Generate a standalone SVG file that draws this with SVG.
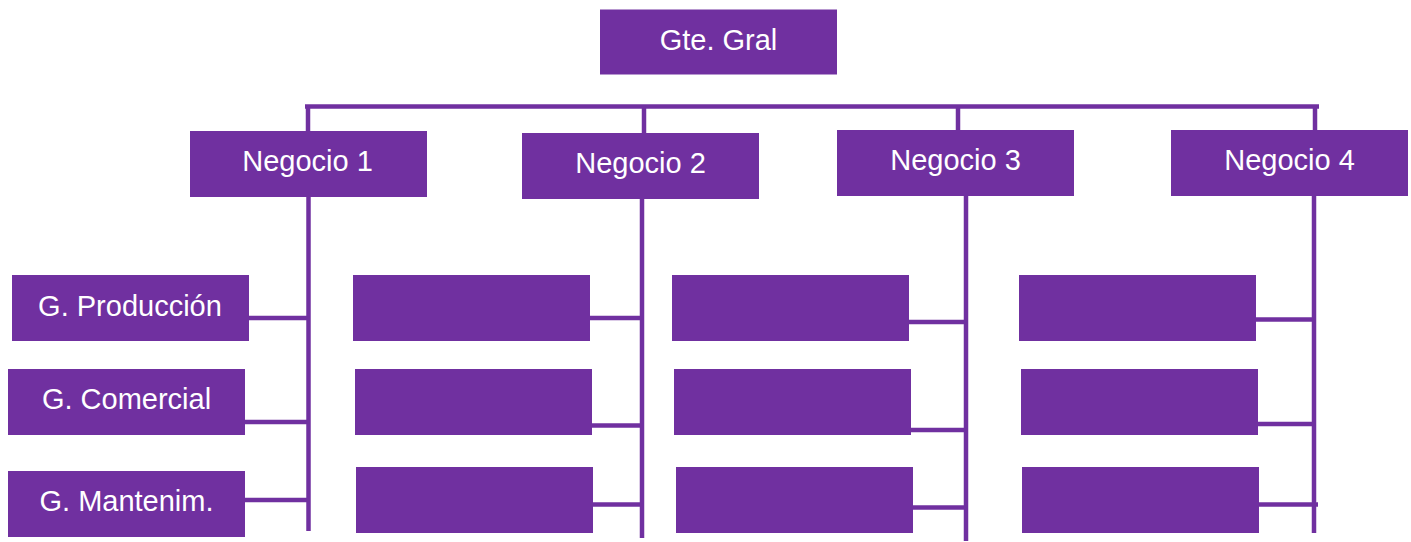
<svg xmlns="http://www.w3.org/2000/svg" width="1411" height="542" viewBox="0 0 1411 542">
  <style>
    .box { fill: #7030A0; }
    .lbl { fill: #FFFFFF; font-family: "Liberation Sans", Arial, sans-serif; font-size: 29px; text-anchor: middle; }
    .ln { stroke: #7030A0; stroke-width: 4.5; fill: none; }
  </style>
  <rect width="1411" height="542" fill="#FFFFFF"/>

  <!-- connectors -->
  <g id="connectors" class="ln">
    <path d="M305 106.5 H1319"/>
    <path d="M308 106.5 V131"/>
    <path d="M644 106.5 V133"/>
    <path d="M958 106.5 V130"/>
    <path d="M1315 106.5 V130"/>
    <path d="M308.5 197 V531"/>
    <path d="M642 199 V538"/>
    <path d="M966 196 V541"/>
    <path d="M1314 196 V533"/>
    <path d="M249 318 H308"/>
    <path d="M245 422 H308"/>
    <path d="M245 500 H308"/>
    <path d="M590 318 H642"/>
    <path d="M592 425.5 H642"/>
    <path d="M593 504.5 H642"/>
    <path d="M909 322 H966"/>
    <path d="M911 430 H966"/>
    <path d="M913 507.5 H966"/>
    <path d="M1256 319.5 H1314"/>
    <path d="M1258 424 H1314"/>
    <path d="M1259 504.5 H1318"/>
  </g>

  <!-- top -->
  <g id="gte-gral">
    <rect class="box" x="600" y="9.5" width="237" height="65"/>
    <text class="lbl" x="718.5" y="50">Gte. Gral</text>
  </g>

  <!-- business units -->
  <g id="negocio-1">
    <rect class="box" x="190" y="131" width="237" height="66"/>
    <text class="lbl" x="307.5" y="171">Negocio 1</text>
  </g>
  <g id="negocio-2">
    <rect class="box" x="522" y="133" width="237" height="66"/>
    <text class="lbl" x="640.5" y="173">Negocio 2</text>
  </g>
  <g id="negocio-3">
    <rect class="box" x="837" y="130" width="237" height="66"/>
    <text class="lbl" x="955.5" y="170">Negocio 3</text>
  </g>
  <g id="negocio-4">
    <rect class="box" x="1171" y="130" width="237" height="66"/>
    <text class="lbl" x="1289.5" y="170">Negocio 4</text>
  </g>

  <!-- departments, unit 1 -->
  <g id="g-produccion">
    <rect class="box" x="12" y="275" width="237" height="66"/>
    <text class="lbl" x="130" y="316">G. Producción</text>
  </g>
  <g id="g-comercial">
    <rect class="box" x="8" y="369" width="237" height="66"/>
    <text class="lbl" x="126.5" y="408.5">G. Comercial</text>
  </g>
  <g id="g-mantenim">
    <rect class="box" x="8" y="471" width="237" height="66"/>
    <text class="lbl" x="126.5" y="510.5">G. Mantenim.</text>
  </g>

  <!-- departments, unit 2 -->
  <g id="n2-d1"><rect class="box" x="353" y="275" width="237" height="66"/></g>
  <g id="n2-d2"><rect class="box" x="355" y="369" width="237" height="66"/></g>
  <g id="n2-d3"><rect class="box" x="356" y="467" width="237" height="66"/></g>

  <!-- departments, unit 3 -->
  <g id="n3-d1"><rect class="box" x="672" y="275" width="237" height="66"/></g>
  <g id="n3-d2"><rect class="box" x="674" y="369" width="237" height="66"/></g>
  <g id="n3-d3"><rect class="box" x="676" y="467" width="237" height="66"/></g>

  <!-- departments, unit 4 -->
  <g id="n4-d1"><rect class="box" x="1019" y="275" width="237" height="66"/></g>
  <g id="n4-d2"><rect class="box" x="1021" y="369" width="237" height="66"/></g>
  <g id="n4-d3"><rect class="box" x="1022" y="467" width="237" height="66"/></g>
</svg>
